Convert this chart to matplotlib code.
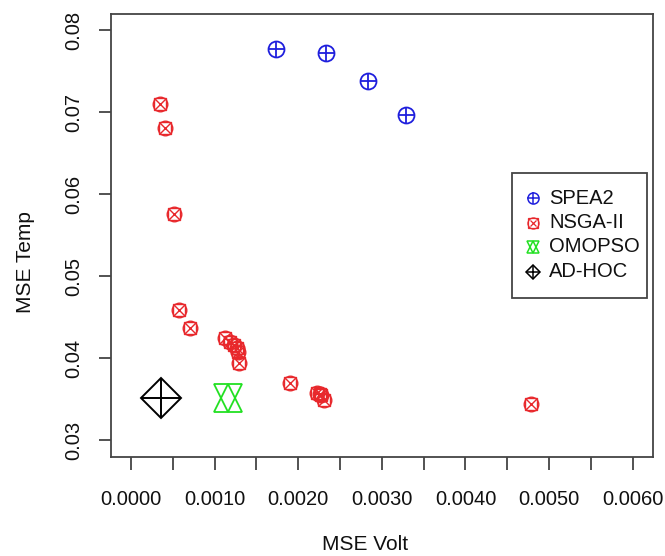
import matplotlib
matplotlib.use("Agg")
import matplotlib.pyplot as plt
from matplotlib.lines import Line2D
from matplotlib.patches import Rectangle

plt.rcParams['font.family'] = ['Liberation Sans', 'DejaVu Sans']

# ---- data ----
spea2_volt = [0.001737, 0.002328, 0.002836, 0.003284]
spea2_temp = [0.07775, 0.07729, 0.07386, 0.06974]

nsga_volt = [0.000342, 0.000410, 0.000514, 0.000574, 0.000709,
             0.001127, 0.001187, 0.001229, 0.001264, 0.001282, 0.001288,
             0.001896, 0.002221, 0.002257, 0.002274, 0.002310, 0.004784]
nsga_temp = [0.07100, 0.06804, 0.05758, 0.04590, 0.04366,
             0.04247, 0.04204, 0.04168, 0.04131, 0.04083, 0.03943,
             0.03693, 0.03578, 0.03566, 0.03547, 0.03487, 0.03438]

omopso_volt = [0.001159]
omopso_temp = [0.03511]

adhoc_volt = [0.000354]
adhoc_temp = [0.03511]

series_names = ["SPEA2", "NSGA-II", "OMOPSO", "AD-HOC"]
x_ticks = [0.0000, 0.0005, 0.0010, 0.0015, 0.0020, 0.0025, 0.0030,
           0.0035, 0.0040, 0.0045, 0.0050, 0.0055, 0.0060]
x_ticklabels = ["0.0000", "", "0.0010", "", "0.0020", "", "0.0030",
                "", "0.0040", "", "0.0050", "", "0.0060"]
y_ticks = [0.03, 0.04, 0.05, 0.06, 0.07, 0.08]
y_ticklabels = ["0.03", "0.04", "0.05", "0.06", "0.07", "0.08"]

BLUE = "#1f1fdd"
RED = "#e8282c"
GREEN = "#22e022"
BLACK = "#000000"
FS = 14.5
LFS = 14.5
W, H = 665, 556

fig = plt.figure(figsize=(6.65, 5.56), dpi=100)
ax = fig.add_axes([0.1669, 0.1786, 0.8146, 0.7962])

def draw_spea2(ax, x, y, ms=11.5, mew=1.3, **kw):
    ax.plot(x, y, ls='none', marker='o', mfc='none', mec=BLUE, ms=ms, mew=mew, **kw)
    ax.plot(x, y, ls='none', marker='+', mec=BLUE, ms=ms, mew=mew, **kw)

def draw_nsga(ax, x, y, ms=10.5, mew=1.0, **kw):
    ax.plot(x, y, ls='none', marker='o', mfc='none', mec=RED, ms=ms, mew=mew, **kw)
    ax.plot(x, y, ls='none', marker='s', mfc='none', mec=RED, ms=ms * 0.88, mew=mew, **kw)
    ax.plot(x, y, ls='none', marker='x', mec=RED, ms=ms * 0.62, mew=mew, **kw)

def draw_omopso(ax, x, y, ms=20, mew=1.3, **kw):
    ax.plot(x, y, ls='none', marker='^', mfc='none', mec=GREEN, ms=ms, mew=mew, **kw)
    ax.plot(x, y, ls='none', marker='v', mfc='none', mec=GREEN, ms=ms, mew=mew, **kw)

def draw_adhoc(ax, x, y, ms=20, mew=1.4, **kw):
    ax.plot(x, y, ls='none', marker='D', mfc='none', mec=BLACK, ms=ms, mew=mew, **kw)
    ax.plot(x, y, ls='none', marker='+', mec=BLACK, ms=ms * 1.41, mew=mew, **kw)

draw_spea2(ax, spea2_volt, spea2_temp)
draw_nsga(ax, nsga_volt, nsga_temp)
draw_omopso(ax, omopso_volt, omopso_temp)
draw_adhoc(ax, adhoc_volt, adhoc_temp)

# R-style 4% padding
x0, x1 = 0.0, 0.006
y0, y1 = 0.030, 0.080
ax.set_xlim(x0 - 0.04 * (x1 - x0), x1 + 0.04 * (x1 - x0))
ax.set_ylim(y0 - 0.04 * (y1 - y0), y1 + 0.04 * (y1 - y0))

ax.set_xticks(x_ticks)
ax.set_xticklabels(x_ticklabels)
ax.set_yticks(y_ticks)
ax.set_yticklabels(y_ticklabels, rotation=90, va='center')

for s in ax.spines.values():
    s.set_color('#444444')
    s.set_linewidth(1.3)

ax.tick_params(axis='both', direction='out', length=9, width=1.3, color='#444444',
               labelsize=FS, labelcolor='#111111')
ax.tick_params(axis='x', pad=15)
ax.tick_params(axis='y', pad=11)

ax.set_xlabel("MSE Volt", fontsize=15, color='#111111')
ax.set_ylabel("MSE Temp", fontsize=15, color='#111111')
ax.xaxis.set_label_coords(0.469, -0.178)
ax.yaxis.set_label_coords(-0.140, 0.44)

# ---- legend box drawn in figure coordinates (R-style) ----
def fx(px):
    return px / W

def fy(py):
    return 1 - py / H

fig.add_artist(Rectangle((fx(512), fy(298)), fx(647) - fx(512), fy(173) - fy(298),
                         transform=fig.transFigure, fill=True, facecolor='white',
                         edgecolor='#444444', linewidth=1.3, zorder=5))
row_y = [198, 222.5, 247, 271.5]
mk_x = 533
txt_x = 549
leg_markers = [
    [dict(marker='o', mfc='none', mec=BLUE, ms=8, mew=1.1),
     dict(marker='+', mec=BLUE, ms=8, mew=1.1)],
    [dict(marker='o', mfc='none', mec=RED, ms=8, mew=0.9),
     dict(marker='s', mfc='none', mec=RED, ms=7, mew=0.9),
     dict(marker='x', mec=RED, ms=5, mew=0.9)],
    [dict(marker='^', mfc='none', mec=GREEN, ms=9, mew=1.1),
     dict(marker='v', mfc='none', mec=GREEN, ms=9, mew=1.1)],
    [dict(marker='D', mfc='none', mec=BLACK, ms=7, mew=1.1),
     dict(marker='+', mec=BLACK, ms=10, mew=1.1)],
]
for name, ry, specs in zip(series_names, row_y, leg_markers):
    for spec in specs:
        fig.add_artist(Line2D([fx(mk_x)], [fy(ry)], ls='none',
                              transform=fig.transFigure, zorder=6, **spec))
    fig.text(fx(txt_x), fy(ry), name, fontsize=LFS, color='#111111',
             ha='left', va='center', zorder=6)

fig.savefig("out.png", dpi=100)
